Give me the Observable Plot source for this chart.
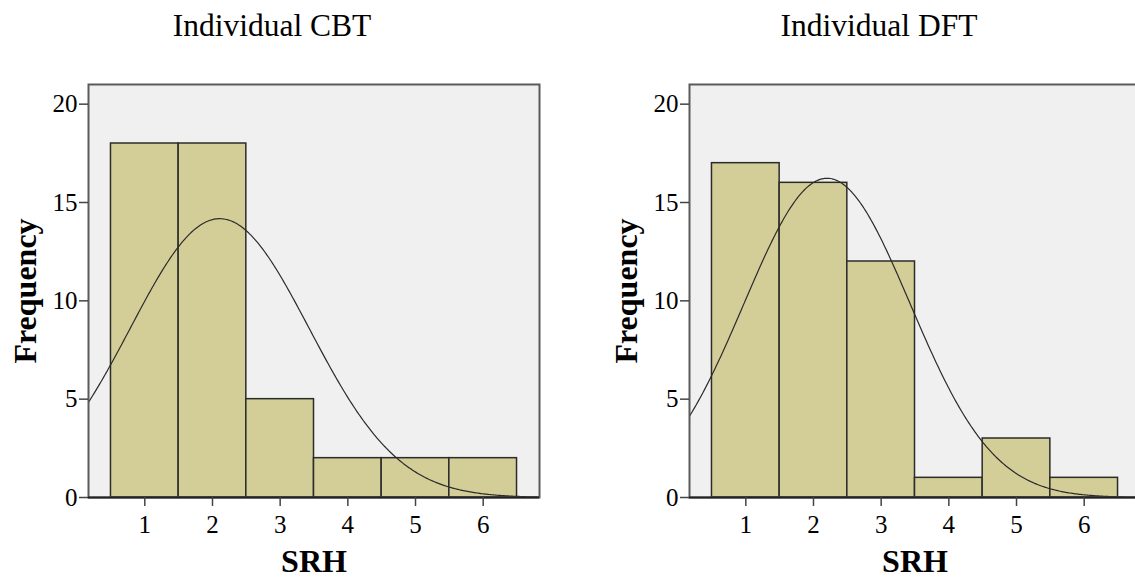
<!DOCTYPE html>
<html><head><meta charset="utf-8">
<script src="https://cdn.jsdelivr.net/npm/d3@7"></script>
<script src="https://cdn.jsdelivr.net/npm/@observablehq/plot@0.6"></script>
<style>
body{margin:0;width:1135px;height:579px;overflow:hidden;background:#fff;position:relative;font-family:"Liberation Serif","Times New Roman",serif;}
.title{position:absolute;top:10px;font-size:31.5px;line-height:1;white-space:nowrap;transform:translateX(-50%);color:#000;}
.panel{position:absolute;top:60px;width:560px;height:519px;}
.panel svg{max-width:none !important;width:560px;height:519px;}
.panel svg text{font-family:"Liberation Serif","Times New Roman",serif !important;}
.panel svg g[aria-label*="tick label"] text{font-size:25px !important;fill:#000;font-variant:normal;}
.panel svg g[aria-label="x-axis label"] text,
.panel svg g[aria-label="y-axis label"] text{font-weight:bold;font-size:32px !important;fill:#000;}
</style>
</head><body>
<div id="t1" class="title" style="left:272px">Individual CBT</div>
<div id="t2" class="title" style="left:879px">Individual DFT</div>
<div id="p1" class="panel" style="left:0px"></div>
<div id="p2" class="panel" style="left:601px"></div>
<script>
// Data
const srhValues = [1, 2, 3, 4, 5, 6];
const cbtFrequency = [18, 18, 5, 2, 2, 2];
const dftFrequency = [17, 16, 12, 1, 3, 1];
const xTicks = [1, 2, 3, 4, 5, 6];
const yTicks = [0, 5, 10, 15, 20];
const xDomain = [0.168, 6.832];
const yDomain = [0, 21];

function normalFit(values, counts) {
  const n = d3.sum(counts);
  const mean = d3.sum(values, (v, i) => v * counts[i]) / n;
  const ss = d3.sum(values, (v, i) => counts[i] * (v - mean) ** 2);
  const sd = Math.sqrt(ss / (n - 1));
  return {n, mean, sd};
}

const serif = '"Liberation Serif","Times New Roman",serif';

function panel(counts) {
  const bars = srhValues.map((v, i) => ({x1: v - 0.5, x2: v + 0.5, y: counts[i]}));
  const {n, mean, sd} = normalFit(srhValues, counts);
  const curve = d3.range(xDomain[0], xDomain[1] + 1e-9, 0.02).map(x => ({
    x, y: n * 1 * Math.exp(-0.5 * ((x - mean) / sd) ** 2) / (sd * Math.sqrt(2 * Math.PI))
  }));
  return Plot.plot({
    width: 560,
    height: 519,
    marginLeft: 88,
    marginRight: 21,
    marginTop: 24,
    marginBottom: 82,
    style: {fontSize: "25px", background: "transparent", color: "#000", maxWidth: "none"},
    x: {domain: xDomain},
    y: {domain: yDomain},
    marks: [
      Plot.frame({fill: "#f0f0f0", stroke: null}),
      Plot.rectY(bars, {x1: "x1", x2: "x2", y: "y", fill: "#d3ce98", stroke: "#2b2b2b", strokeWidth: 1.5}),
      Plot.line(curve, {x: "x", y: "y", stroke: "#2b2b2b", strokeWidth: 1.2, clip: "frame"}),
      Plot.frame({stroke: "#5a5a5a", strokeWidth: 2}),
      Plot.ruleY([0], {stroke: "#222", strokeWidth: 2}),
      Plot.axisY({ticks: yTicks, tickFormat: "d", tickSize: 9, tickPadding: 2, fontSize: 25, fontFamily: serif, label: "Frequency", labelAnchor: "center", labelOffset: 75, labelArrow: false, stroke: "#444", strokeWidth: 1.5}),
      Plot.axisX({ticks: xTicks, tickFormat: "d", tickSize: 9, tickPadding: 9, fontSize: 25, fontFamily: serif, label: "SRH", labelAnchor: "center", labelOffset: 74, labelArrow: false, stroke: "#444", strokeWidth: 1.5})
    ]
  });
}

document.getElementById("p1").appendChild(panel(cbtFrequency));
document.getElementById("p2").appendChild(panel(dftFrequency));
</script>
</body></html>
